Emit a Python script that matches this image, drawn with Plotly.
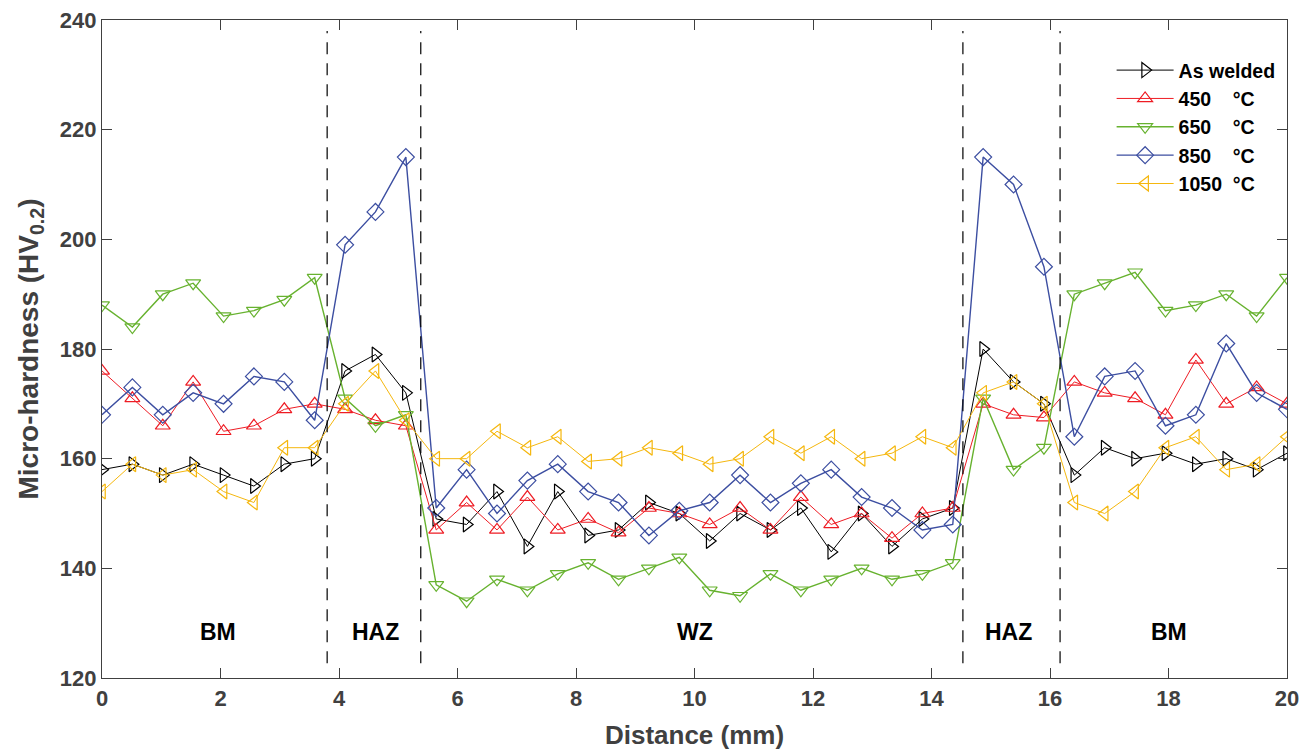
import plotly.graph_objects as go

# Hardness traverse across the weld: 40 indents, 0–20 mm
n_points = 40
distance = [20 * i / (n_points - 1) for i in range(n_points)]

as_welded = [158, 159, 157, 159, 157, 155, 159, 160, 176, 179,
             172, 149, 148, 154, 144, 154, 146, 147, 152, 150,
             145, 150, 147, 151, 143, 150, 144, 149, 151, 180,
             174, 170, 157, 162, 160, 161, 159, 160, 158, 161]
t450 = [176, 171, 166, 174, 165, 166, 169, 170, 169, 167,
        166, 147, 152, 147, 153, 147, 149, 146.5, 151, 150,
        148, 151, 147, 153, 148, 150, 145.5, 150, 151, 170,
        168, 167.5, 174, 172, 171, 168, 178, 170, 173, 170]
t650 = [188, 184, 190, 192, 186, 187, 189, 193, 171, 166,
        168, 137, 134, 138, 136, 139, 141, 138, 140, 142,
        136, 135, 139, 136, 138, 140, 138, 139, 141, 171,
        158, 162, 190, 192, 194, 187, 188, 190, 186, 193]
t850 = [168, 173, 168, 172, 170, 175, 174, 167, 199, 205,
        215, 151, 158, 150, 156, 159, 154, 152, 146, 150.5,
        152, 157, 152, 155.5, 158, 153, 151, 147, 148, 215,
        210, 195, 164, 175, 176, 166, 168, 181, 172, 169]
t1050 = [154, 159, 157, 158, 154, 152, 162, 162, 170, 176,
         167, 160, 160, 165, 162, 164, 159.5, 160, 162, 161,
         159, 160, 164, 161, 164, 160, 161, 164, 162, 172,
         174, 170, 152, 150, 154, 162, 164, 158, 159, 164]

series_names = ["As welded", "450\u00a0\u00a0\u00a0\u00a0°C", "650\u00a0\u00a0\u00a0\u00a0°C",
                "850\u00a0\u00a0\u00a0\u00a0°C", "1050\u00a0\u00a0°C"]
series_values = [as_welded, t450, t650, t850, t1050]
series_colors = ["#000000", "#ee1c24", "#67b22f", "#3c4ea1", "#f5b70e"]
series_symbols = ["triangle-right-open", "triangle-up-open", "triangle-down-open",
                  "diamond-open", "triangle-left-open"]
series_widths = [1.0, 1.0, 1.4, 1.4, 1.0]

# Zone boundaries and labels
zone_bounds = [3.8, 5.38, 14.53, 16.17]
zone_labels = ["BM", "HAZ", "WZ", "HAZ", "BM"]
zone_label_x = [1.95, 4.62, 10.0, 15.3, 18.0]

font_family = "Liberation Sans, Arial, sans-serif"

fig = go.Figure()
for name, vals, col, sym, w in zip(series_names, series_values, series_colors,
                                    series_symbols, series_widths):
    fig.add_trace(go.Scatter(
        x=distance, y=vals, name=name, mode="lines+markers",
        line=dict(color=col, width=w),
        marker=dict(symbol=sym, size=13, color=col, line=dict(color=col, width=1.2)),
    ))

for xb in zone_bounds:
    fig.add_shape(type="line", x0=xb, x1=xb, y0=122.7, y1=238, xref="x", yref="y",
                  line=dict(color="black", width=1.2, dash="12px,9px"))

for lx, lt in zip(zone_label_x, zone_labels):
    fig.add_annotation(x=lx, y=128.3, text=f"<b>{lt}</b>", showarrow=False,
                       font=dict(family=font_family, size=23, color="black"))

axis_common = dict(
    showline=True, linecolor="#404040", linewidth=1.3, mirror="ticks",
    ticks="inside", ticklen=10, tickwidth=1.2, tickcolor="#404040",
    showgrid=False, zeroline=False, automargin=False,
    tickfont=dict(family=font_family, size=22, color="#404040", weight="bold"),
)

fig.update_xaxes(range=[0, 20], dtick=2,
                 title=dict(text="<b>Distance (mm)</b>", standoff=16,
                            font=dict(family=font_family, size=26, color="#404040")),
                 **axis_common)
fig.update_yaxes(range=[120, 240], dtick=20,
                 title=dict(text="<b>Micro-hardness (HV<sub>0.2</sub>)</b>", standoff=12,
                            font=dict(family=font_family, size=28, color="#404040")),
                 **axis_common)

fig.update_layout(
    width=1309, height=752,
    margin=dict(l=102, r=22, t=20, b=74),
    plot_bgcolor="white", paper_bgcolor="white",
    legend=dict(x=0.852, y=0.953, xanchor="left", yanchor="top",
                bgcolor="rgba(0,0,0,0)", borderwidth=0, itemwidth=57,
                tracegroupgap=0,
                font=dict(family=font_family, size=19.5, color="black", weight="bold")),
)

fig.write_html("out.html")
